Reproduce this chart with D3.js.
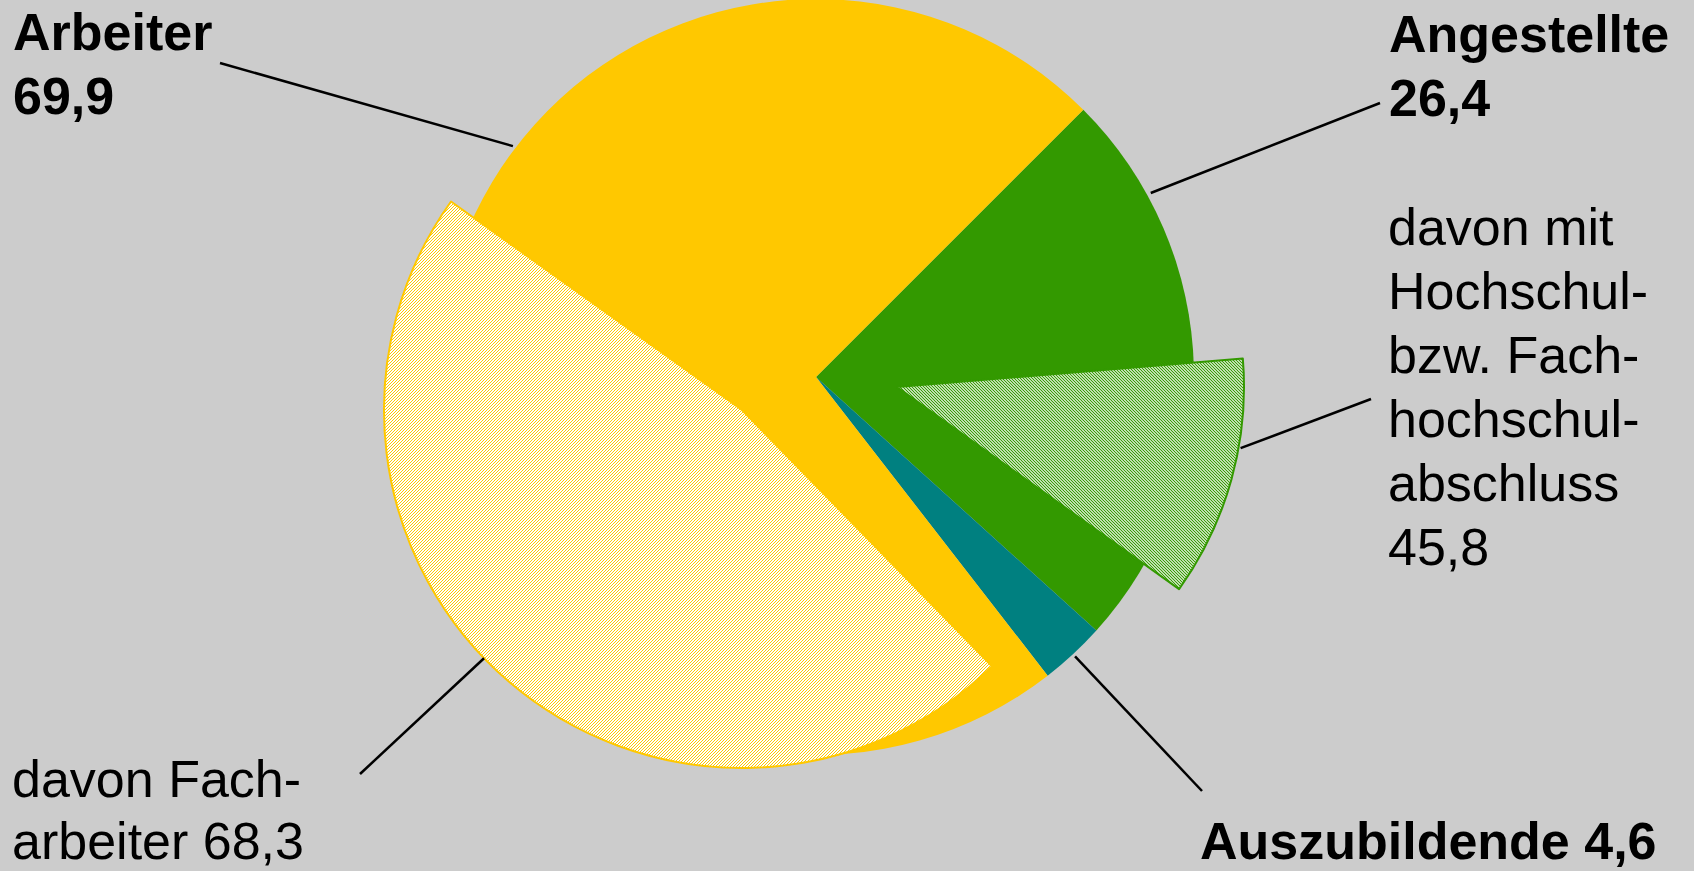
<!DOCTYPE html>
<html>
<head>
<meta charset="utf-8">
<script src="https://cdn.jsdelivr.net/npm/d3@7"></script>
<style>
html, body { margin: 0; padding: 0; background: #cccccc; }
svg { display: block; }
text { font-family: "Liberation Sans", Arial, sans-serif; font-size: 52px; fill: #000; }
</style>
</head>
<body>
<svg id="svg" width="1694" height="871"></svg>
<script>
// main pie: printed values and the slice sizes as they are drawn in the picture
var categories = ["Angestellte", "Auszubildende", "Arbeiter"],
    printed    = [26.4, 4.6, 69.9],
    shares     = [24.2, 2.8, 73.0];

// "davon" sectors, pulled out of their parent slice
var subCategories = ["Hochschulabschluss", "Facharbeiter"],
    subParent     = [0, 2],
    subPrinted    = [45.8, 68.3],
    subShares     = [11.2, 47.2];

var colors = ["#339900", "#008080", "#ffc800"];
var fmt = v => d3.format(".1f")(v).replace(".", ",");

d3.selection.prototype.attrs = function(o) {
    for (var k in o) this.attr(k, o[k]);
    return this;
};

var svg = d3.select("#svg"),
    defs = svg.append("defs");

var cx = 816, cy = 377, R = 378, rad = Math.PI / 180;

var pie = d3.pie().sort(null).startAngle(45 * rad).endAngle(405 * rad);
var arcs = pie(shares);
var arc = d3.arc().innerRadius(0).outerRadius(R);

// hatch patterns
function hatch(id, col, w, up) {
    var p = defs.append("pattern").attrs({id: id, patternUnits: "userSpaceOnUse", width: 3, height: 3});
    p.append("rect").attrs({width: 3, height: 3, fill: "#fff"});
    p.append("path").attrs({
        d: up ? "M-1,1L1,-1M0,3L3,0M2,4L4,2" : "M-1,2L1,4M0,0L3,3M2,-1L4,1",
        stroke: col, "stroke-width": w
    });
}
hatch("hatchGreen", "#339900", 1.2, false);
hatch("hatchYellow", "#ffc800", 1.0, true);

var g = svg.append("g").attr("transform", "translate(" + cx + "," + cy + ")");
g.selectAll(".slice").data(arcs).enter()
    .append("path").attr("class", "slice")
    .attr("d", arc)
    .attr("fill", (_, i) => colors[i]);

// sub sectors
var subLayout = [
    {dx:  81, dy: 10, r: 347, anchor: "end",   shift: -6.5, fill: "url(#hatchGreen)",  stroke: "#339900"},
    {dx: -74, dy: 33, r: 358, anchor: "start", shift: -6.5, fill: "url(#hatchYellow)", stroke: "#ffc800"}
];
var subArcs = subShares.map(function(s, i) {
    var par = arcs[subParent[i]], L = subLayout[i], span = s / 100 * 2 * Math.PI, a0, a1;
    if (L.anchor == "end") { a1 = par.endAngle + L.shift * rad; a0 = a1 - span; }
    else { a0 = par.startAngle + L.shift * rad; a1 = a0 + span; }
    return {startAngle: a0, endAngle: a1, ox: cx + L.dx, oy: cy + L.dy, r: L.r, L: L};
});
svg.selectAll(".sub").data(subArcs).enter()
    .append("path").attr("class", "sub")
    .attr("transform", d => "translate(" + d.ox + "," + d.oy + ")")
    .attr("d", d => d3.arc().innerRadius(0).outerRadius(d.r)(d))
    .attrs({"stroke-width": 2, "stroke-linejoin": "round"})
    .attr("fill", d => d.L.fill)
    .attr("stroke", d => d.L.stroke);

// leader lines
function onArc(ox, oy, r, a) { return [ox + r * Math.sin(a), oy - r * Math.cos(a)]; }
var teal = arcs[1];
var leaders = [
    {p: onArc(cx, cy, R + 3, 307.3 * rad), q: [220, 63]},
    {p: onArc(cx, cy, R + 4, 61.2 * rad), q: [1380, 103]},
    {p: onArc(cx, cy, R + 3, (teal.startAngle + teal.endAngle) / 2), q: [1202, 791]},
    {p: onArc(subArcs[0].ox, subArcs[0].oy, subArcs[0].r + 2, 100.1 * rad), q: [1371, 399]},
    {p: onArc(subArcs[1].ox, subArcs[1].oy, subArcs[1].r, 226.1 * rad), q: [360, 774]}
];
svg.selectAll(".leader").data(leaders).enter()
    .append("line").attr("class", "leader")
    .attrs({stroke: "#000", "stroke-width": 2.5})
    .attr("x1", d => d.p[0]).attr("y1", d => d.p[1])
    .attr("x2", d => d.q[0]).attr("y2", d => d.q[1]);

// labels
var labels = [
    {x: 13,   y: 50,  lh: 63.5, bold: true,  lines: [categories[2], fmt(printed[2])]},
    {x: 1389, y: 52,  lh: 64,   bold: true,  lines: [categories[0], fmt(printed[0])]},
    {x: 1200, y: 859, lh: 64,   bold: true,  lines: [categories[1] + " " + fmt(printed[1])]},
    {x: 1388, y: 245, lh: 64,   bold: false, lines: ["davon mit", "Hochschul-", "bzw. Fach-", "hochschul-", "abschluss", fmt(subPrinted[0])]},
    {x: 12,   y: 797, lh: 62,   bold: false, lines: ["davon Fach-", "arbeiter " + fmt(subPrinted[1])]}
];
var lab = svg.selectAll(".label").data(labels).enter()
    .append("text").attr("class", "label")
    .attr("font-weight", d => d.bold ? "bold" : "normal");
lab.selectAll("tspan").data(d => d.lines.map(t => ({t: t, d: d}))).enter()
    .append("tspan")
    .attr("x", o => o.d.x)
    .attr("y", (o, i) => o.d.y + i * o.d.lh)
    .text(o => o.t);
</script>
</body>
</html>
